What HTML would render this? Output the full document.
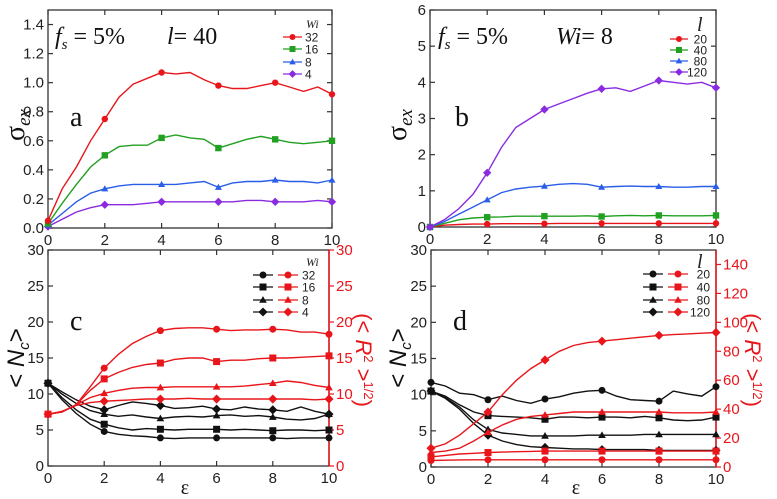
<!DOCTYPE html>
<html><head><meta charset="utf-8"><style>
body{margin:0;background:#fff}
svg{display:block}
text{font-family:"Liberation Sans",Arial,sans-serif}
.serif{font-family:"Liberation Serif","Times New Roman",serif}
</style></head><body>
<svg id="fig" width="777" height="499" viewBox="0 0 777 499"></svg>
<script>
// shared x grid (epsilon, step 0.5)
const epsGrid = [0,0.5,1,1.5,2,2.5,3,3.5,4,4.5,5,5.5,6,6.5,7,7.5,8,8.5,9,9.5,10];
const xTicks = [0,2,4,6,8,10];
// Panel a: sigma_ex vs eps, fs=5%, l=40
const aLabels = ["32","16","8","4"];
const aWi32 = [0.05,0.27,0.42,0.6,0.75,0.9,0.99,1.03,1.07,1.06,1.07,1.02,0.98,0.96,0.96,0.98,1.0,0.97,0.94,0.97,0.92];
const aWi16 = [0.03,0.17,0.3,0.42,0.5,0.56,0.57,0.57,0.62,0.64,0.62,0.61,0.55,0.58,0.61,0.63,0.61,0.59,0.58,0.59,0.6];
const aWi8 = [0.02,0.1,0.18,0.24,0.27,0.29,0.3,0.3,0.3,0.3,0.31,0.32,0.28,0.31,0.32,0.32,0.33,0.32,0.32,0.31,0.33];
const aWi4 = [0.01,0.06,0.11,0.14,0.16,0.16,0.16,0.17,0.18,0.18,0.18,0.18,0.18,0.18,0.19,0.19,0.18,0.18,0.18,0.19,0.18];
const aYTicks = ["0.0","0.2","0.4","0.6","0.8","1.0","1.2","1.4"];
// Panel b: sigma_ex vs eps, fs=5%, Wi=8
const bLabels = ["20","40","80","120"];
const bL20 = [0,0.05,0.07,0.08,0.08,0.09,0.09,0.09,0.09,0.1,0.1,0.1,0.1,0.1,0.1,0.1,0.1,0.1,0.1,0.1,0.1];
const bL40 = [0,0.1,0.2,0.25,0.27,0.28,0.3,0.3,0.3,0.3,0.3,0.31,0.29,0.31,0.32,0.31,0.32,0.31,0.31,0.31,0.32];
const bL80 = [0,0.15,0.35,0.55,0.75,0.95,1.05,1.1,1.13,1.18,1.2,1.18,1.1,1.12,1.13,1.12,1.12,1.1,1.1,1.12,1.12];
const bL120 = [0,0.2,0.5,0.9,1.5,2.2,2.75,3.0,3.25,3.4,3.55,3.7,3.82,3.85,3.75,3.9,4.05,4.0,3.95,4.0,3.85];
const bYTicks = ["0","1","2","3","4","5","6"];
// Panel c: Nc (black, left) and R (red, right)
const cNc32 = [11.5,9.2,7.3,5.8,4.8,4.4,4.2,4.1,3.9,3.8,3.9,3.9,3.9,3.9,3.9,3.9,3.9,3.8,3.9,3.9,3.9];
const cNc16 = [11.5,9.5,7.8,6.5,5.8,5.3,5.0,5.2,5.1,5.0,5.1,5.1,5.1,5.0,5.1,5.0,4.9,5.0,5.0,4.9,5.0];
const cNc8 = [11.5,10,8.7,7.7,7.2,6.9,7.1,6.8,6.6,6.8,6.9,6.8,7.0,7.1,6.9,7.0,6.8,6.5,6.4,6.6,7.2];
const cNc4 = [11.5,10.3,9.2,8.3,7.8,8.4,8.9,8.7,8.4,8.0,8.1,8.3,7.9,7.8,8.2,7.9,7.8,7.6,8.2,7.6,7.2];
const cR32 = [7.2,7.5,8.5,11,13.6,15.5,17,18,18.8,19.1,19.2,19.2,19,18.8,18.9,18.9,19,18.9,18.6,18.6,18.3];
const cR16 = [7.2,7.5,8.5,10.5,12.1,13,13.7,14.1,14.3,14.8,15,15,14.5,14.7,14.7,14.9,15,15,15.1,15.2,15.3];
const cR8 = [7.2,7.5,8.5,9.5,10.1,10.5,10.8,10.9,10.9,11,11,11,11,11,11.1,11.3,11.5,11.8,11.6,11.2,10.9];
const cR4 = [7.2,7.6,8.4,8.8,9.0,9.1,9.2,9.3,9.3,9.3,9.4,9.3,9.3,9.3,9.3,9.3,9.3,9.3,9.3,9.2,9.3];
const cYTicks = ["0","5","10","15","20","25","30"];
// Panel d
const dNc20 = [11.7,11.2,10.2,10.0,9.3,9.8,9.2,8.8,9.4,9.7,10.2,10.5,10.6,9.8,9.3,9.2,9.1,10.5,10.1,9.8,11.1];
const dNc40 = [10.5,9.8,8.6,7.6,7.1,7.0,6.9,6.8,6.6,6.9,6.9,6.8,6.9,6.9,6.8,7.0,6.8,6.5,6.4,6.5,6.9];
const dNc80 = [10.5,9.6,8.3,6.5,5.2,4.7,4.5,4.3,4.3,4.3,4.3,4.4,4.4,4.4,4.4,4.5,4.5,4.5,4.5,4.5,4.5];
const dNc120 = [10.5,9.5,8.0,6.0,4.4,3.6,3.1,2.8,2.7,2.6,2.5,2.5,2.4,2.4,2.4,2.4,2.3,2.3,2.3,2.3,2.3];
const dR20 = [4.5,4.7,4.9,5,5,5,5,5,5,5,5,5,5,5,5,5,5,5,5,5,5];
const dR40 = [7,8,9,9.5,10,10.3,10.6,10.8,11,11,11,11,11,11,11,11,11,11,11,11,11];
const dR80 = [10,11,13,18,24,29,33,35,36,37,38,38,38,38,38,38,38,37.5,37.5,37.5,38];
const dR120 = [13,16,22,30,38,50,60,68,74,80,84,86,87,88,89,90,91,91.5,92,92.5,93];
const dYTicks = ["0","5","10","15","20","25","30"];
const dRTicks = ["0","20","40","60","80","100","120","140"];

const NS="http://www.w3.org/2000/svg";
const svg=document.getElementById('fig');
function mk(tag,attrs,parent){const e=document.createElementNS(NS,tag);for(const k in attrs)e.setAttribute(k,attrs[k]);(parent||svg).appendChild(e);return e;}
function txt(s,attrs,parent){const e=mk('text',attrs,parent);e.textContent=s;return e;}

function marker(g,shape,x,y,color,r){
  let e;
  if(shape==='circle'){e=mk('circle',{cx:x,cy:y,r:r,fill:color},g);}
  else if(shape==='square'){e=mk('rect',{x:x-r,y:y-r,width:2*r,height:2*r,fill:color},g);}
  else if(shape==='triangle'){e=mk('polygon',{points:`${x},${y-r*1.1} ${x-r*1.1},${y+r*0.8} ${x+r*1.1},${y+r*0.8}`,fill:color},g);}
  else {e=mk('polygon',{points:`${x},${y-r*1.3} ${x+r*1.3},${y} ${x},${y+r*1.3} ${x-r*1.3},${y}`,fill:color},g);}
  
  
}

function axisBox(p){
  const g=mk('g',{});
  
  
  mk('rect',{x:p.x0,y:p.yt,width:p.x1-p.x0,height:p.yb-p.yt,fill:'none',stroke:'#333','stroke-width':1.3},g);
  xTicks.forEach(t=>{const x=p.sx(t);
    mk('line',{x1:x,x2:x,y1:p.yb,y2:p.yb-5,stroke:'#333','stroke-width':1.2},g);
    mk('line',{x1:x,x2:x,y1:p.yt,y2:p.yt+5,stroke:'#333','stroke-width':1.2},g);
    const l=txt(String(t),{x:x,y:p.yb+17,'font-size':15,'text-anchor':'middle',fill:'#222'},g);
    
  });
  p.yTicks.forEach((t,i)=>{const v=parseFloat(t);const y=p.sy(v);
    mk('line',{x1:p.x0,x2:p.x0+5,y1:y,y2:y,stroke:'#333','stroke-width':1.2},g);
    if(!p.rTicks) mk('line',{x1:p.x1,x2:p.x1-5,y1:y,y2:y,stroke:'#333','stroke-width':1.2},g);
    const l=txt(t,{x:p.x0-4,y:y+5,'font-size':15,'text-anchor':'end',fill:'#222'},g);
    
  });
  if(p.rTicks){
    mk('line',{x1:p.x1,x2:p.x1,y1:p.yt,y2:p.yb,stroke:'#e8161b','stroke-width':1.5},g);
    p.rTicks.forEach(t=>{const y=p.sr(parseFloat(t));
      mk('line',{x1:p.x1,x2:p.x1+5,y1:y,y2:y,stroke:'#e8161b','stroke-width':1.2},g);
      const l=txt(t,{x:p.x1+7,y:y+5,'font-size':15,fill:'#e8161b'},g);
      
    });
  }
}
function series(p,vals,color,shape,scale,name,r){
  const g=mk('g',{});
  
  
  const pts=vals.map((v,i)=>`${p.sx(epsGrid[i]).toFixed(1)},${scale(v).toFixed(1)}`).join(' ');
  mk('polyline',{points:pts,fill:'none',stroke:color,'stroke-width':1.4},g);
  vals.forEach((v,i)=>{if(epsGrid[i]%2===0) marker(g,shape,p.sx(epsGrid[i]),scale(v),color,r||3.2);});
}
function panel(x0,x1,yt,yb,ymax,rmax){
  const p={x0,x1,yt,yb};
  p.sx=v=>x0+(x1-x0)*v/10;
  p.sy=v=>yb-(yb-yt)*v/ymax;
  if(rmax) p.sr=v=>yb-(yb-yt)*v/rmax;
  return p;
}
const shapes=['circle','square','triangle','diamond'];

// ---- Panel a
const pa=panel(48,332,10,228,1.5);pa.name='panel-a';pa.yTicks=aYTicks;axisBox(pa);
const aCols=['#e8161b','#22a022','#2a5ee8','#8a2be2'];
[aWi4,aWi8,aWi16,aWi32].forEach((s,k)=>{const i=3-k;series(pa,s,aCols[i],shapes[i],pa.sy,'series-wi-'+aLabels[i]);});
// ---- Panel b
const pb=panel(430,716,10,227,6);pb.name='panel-b';pb.yTicks=bYTicks;axisBox(pb);
const bCols=['#e8161b','#22a022','#2a5ee8','#8a2be2'];
[bL20,bL40,bL80,bL120].forEach((s,i)=>series(pb,s,bCols[i],shapes[i],pb.sy,'series-l-'+bLabels[i]));
// ---- Panel c
const pc=panel(48,329,250,466,30,30);pc.name='panel-c';pc.yTicks=cYTicks;pc.rTicks=cYTicks;axisBox(pc);
[cNc32,cNc16,cNc8,cNc4].forEach((s,i)=>series(pc,s,'#111',shapes[i],pc.sy,'nc-wi-'+aLabels[i],3.5));
[cR32,cR16,cR8,cR4].forEach((s,i)=>series(pc,s,'#e8161b',shapes[i],pc.sr,'r-wi-'+aLabels[i],3.5));
// ---- Panel d
const pd=panel(431,716,250,467,30,150);pd.name='panel-d';pd.yTicks=dYTicks;pd.rTicks=dRTicks;axisBox(pd);
[dNc20,dNc40,dNc80,dNc120].forEach((s,i)=>series(pd,s,'#111',shapes[i],pd.sy,'nc-l-'+bLabels[i],3.5));
[dR20,dR40,dR80,dR120].forEach((s,i)=>series(pd,s,'#e8161b',shapes[i],pd.sr,'r-l-'+bLabels[i],3.5));

// ---- Legends
function legend(name,rows,labels,cols,xs,textX,anchor,title,tx,ty,dual,tsize){
  const g=mk('g',{});
  
  
  txt(title,{x:tx,y:ty,'font-size':tsize,'font-style':'italic',class:'serif',fill:'#222'},g);
  labels.forEach((lab,i)=>{const y=rows[i];
    xs.forEach((seg,k)=>{const c=dual?(k===0?'#111':'#e8161b'):cols[i];
      mk('line',{x1:seg[0],x2:seg[1],y1:y,y2:y,stroke:c,'stroke-width':1.3},g);
      marker(g,shapes[i],(seg[0]+seg[1])/2,y,c,dual?3.5:3);});
    txt(lab,{x:textX,y:y+4.5,'font-size':12,'text-anchor':anchor,fill:'#222'},g);
  });
}
legend('legend-a',[37,49,62,74],aLabels,aCols,[[283,302]],305,'start','Wi',306,28,false,12);
legend('legend-b',[39,50,61,72],bLabels,bCols,[[670,688]],707,'end','l',697,31,false,20);
legend('legend-c',[275,287,300,312],aLabels,null,[[253,273],[278,298]],302,'start','Wi',306,266,true,12);
legend('legend-d',[274,287,300,312],bLabels,null,[[643,663],[668,688]],710,'end','l',697,268,true,20);
</script>
<div style="position:absolute;left:0;top:0;width:777px;height:499px;pointer-events:none">
<svg width="777" height="499" style="position:absolute;left:0;top:0">
  <g class="serif" fill="#111">
    <text x="55" y="44" font-size="24" class="serif" font-style="italic">f<tspan font-size="15" dy="5">s</tspan><tspan dy="-5" font-style="normal"> = 5%</tspan></text>
    <text x="167" y="44" font-size="24" class="serif"><tspan font-style="italic">l</tspan>= 40</text>
    <text x="70" y="126" font-size="28" class="serif">a</text>
    <text x="438" y="44" font-size="24" class="serif" font-style="italic">f<tspan font-size="15" dy="5">s</tspan><tspan dy="-5" font-style="normal"> = 5%</tspan></text>
    <text x="556" y="44" font-size="24" class="serif"><tspan font-style="italic">Wi</tspan>= 8</text>
    <text x="455" y="126" font-size="28" class="serif">b</text>
    <text x="70" y="330" font-size="28" class="serif">c</text>
    <text x="453" y="330" font-size="28" class="serif">d</text>
    <text x="185" y="494" font-size="20" class="serif" text-anchor="middle">ε</text>
    <text x="576" y="494" font-size="20" class="serif" text-anchor="middle">ε</text>
    <text transform="translate(24,125) rotate(-90)" font-size="28" text-anchor="middle" class="serif">σ<tspan font-size="19" dy="6" font-style="italic">ex</tspan></text>
    <text transform="translate(406,125) rotate(-90)" font-size="28" text-anchor="middle" class="serif">σ<tspan font-size="19" dy="6" font-style="italic">ex</tspan></text>
    <text transform="translate(24,358) rotate(-90)" font-size="24" text-anchor="middle">&lt; <tspan font-style="italic">N</tspan><tspan font-size="15" dy="5" font-style="italic">c</tspan><tspan dy="-5">&gt;</tspan></text>
    <text transform="translate(406,358) rotate(-90)" font-size="24" text-anchor="middle">&lt; <tspan font-style="italic">N</tspan><tspan font-size="15" dy="5" font-style="italic">c</tspan><tspan dy="-5">&gt;</tspan></text>
    <text transform="translate(356,360) rotate(90)" font-size="22" text-anchor="middle" fill="#e8161b">(&lt; <tspan font-style="italic">R</tspan><tspan font-size="13" dy="-8">2</tspan><tspan dy="8"> &gt;</tspan><tspan font-size="13" dy="-8">1/2</tspan><tspan dy="8">)</tspan></text>
    <text transform="translate(745,360) rotate(90)" font-size="22" text-anchor="middle" fill="#e8161b">(&lt; <tspan font-style="italic">R</tspan><tspan font-size="13" dy="-8">2</tspan><tspan dy="8"> &gt;</tspan><tspan font-size="13" dy="-8">1/2</tspan><tspan dy="8">)</tspan></text>
  </g>
</svg>
</div>
</body></html>
